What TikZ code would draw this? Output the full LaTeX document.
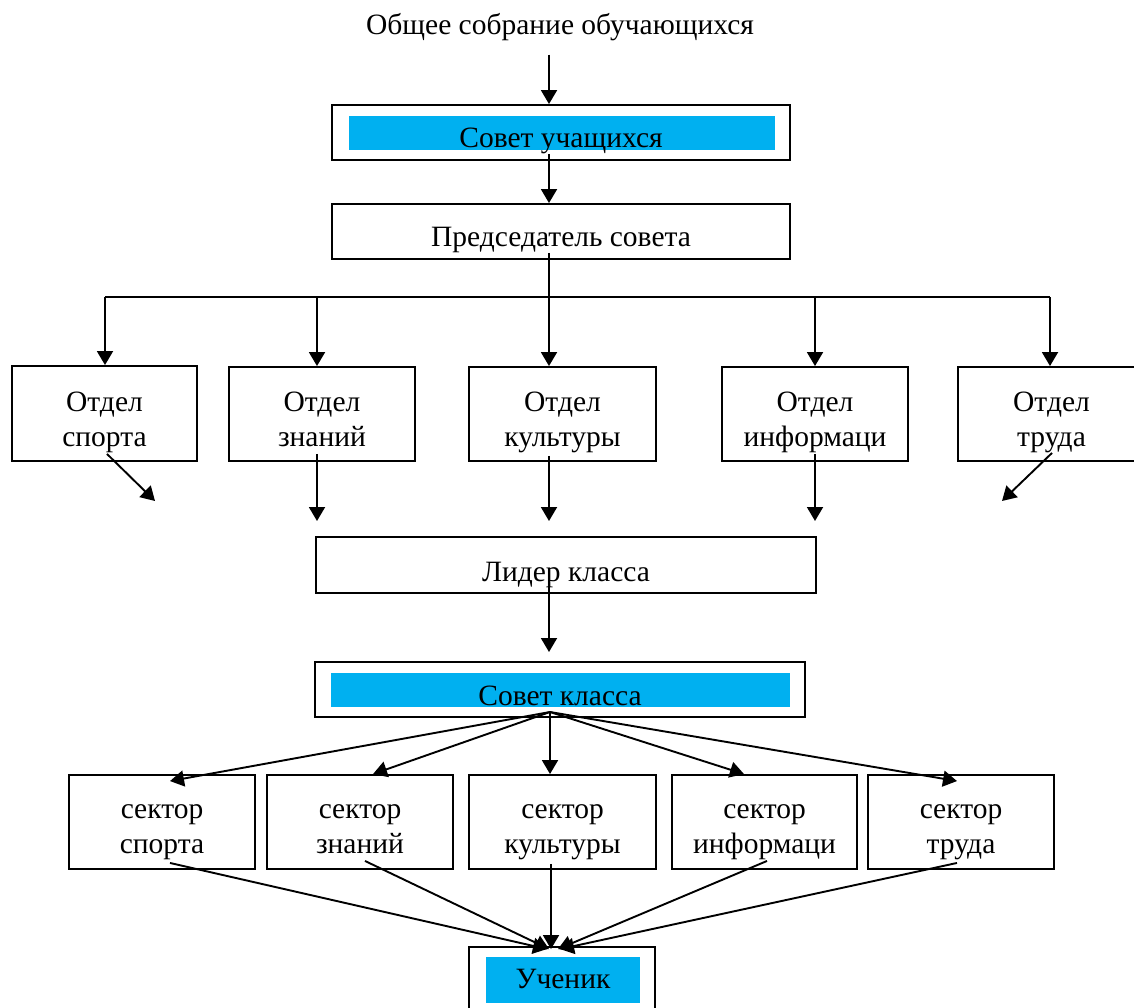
\documentclass[tikz,border=0pt]{standalone}
\usepackage{fontspec}
\setmainfont{Liberation Serif}
\usetikzlibrary{arrows.meta}
\definecolor{sky}{HTML}{00B0F0}
\newcommand\twol[2]{\begin{tabular}[t]{@{}c@{}}#1\\#2\end{tabular}}
\begin{document}
\begin{tikzpicture}[x=1pt,y=-1pt,
  box/.style={draw, line width=1.9pt, inner sep=0pt},
  skybox/.style={fill=sky, draw=none, inner sep=0pt},
  arr/.style={line width=1.9pt, -{Triangle[width=16pt,length=14pt]}},
  ln/.style={line width=1.9pt},
  lbl/.style={anchor=base, inner sep=0pt, font=\fontsize{29.5}{35}\selectfont}]
\useasboundingbox (0,0) rectangle (1134,1008);
\clip (0,0) rectangle (1134,1008);
\fill[white] (0,0) rectangle (1134,1008);

% title
\node[lbl] (t) at (560,35) {Общее собрание обучающихся};

% Совет учащихся
\node[box, minimum width=458pt, minimum height=55pt] (su) at (561,132.5) {};
\node[skybox, minimum width=426pt, minimum height=34pt] (sub) at (562,133) {};
\node[lbl] (sut) at (561,148) {Совет учащихся};

% Председатель совета
\node[box, minimum width=458pt, minimum height=55pt] (pr) at (561,231.5) {};
\node[lbl] (prt) at (561,247) {Председатель совета};

% Отделы
\node[box, minimum width=185pt, minimum height=95pt] (o1) at (104.5,413.5) {};
\node[box, minimum width=186pt, minimum height=94pt] (o2) at (322,414) {};
\node[box, minimum width=187pt, minimum height=94pt] (o3) at (562.5,414) {};
\node[box, minimum width=186pt, minimum height=94pt] (o4) at (815,414) {};
\node[box, minimum width=187pt, minimum height=94pt] (o5) at (1051.5,414) {};
\node[lbl] (o1t) at (104.5,411) {\twol{Отдел}{спорта}};
\node[lbl] (o2t) at (322,411) {\twol{Отдел}{знаний}};
\node[lbl] (o3t) at (562.5,411) {\twol{Отдел}{культуры}};
\node[lbl] (o4t) at (815,411) {\twol{Отдел}{информаци}};
\node[lbl] (o5t) at (1051.5,411) {\twol{Отдел}{труда}};

% Лидер класса
\node[box, minimum width=500pt, minimum height=56pt] (ld) at (566,565) {};
\node[lbl] (ldt) at (566,581) {Лидер класса};

% Совет класса
\node[box, minimum width=490pt, minimum height=55pt] (sc) at (560,689.5) {};
\node[skybox, minimum width=459pt, minimum height=34pt] (scb) at (560.5,690) {};
\node[lbl] (sct) at (560,705) {Совет класса};

% Секторы
\node[box, minimum width=186pt, minimum height=94pt] (s1) at (162,822) {};
\node[box, minimum width=186pt, minimum height=94pt] (s2) at (360,822) {};
\node[box, minimum width=187pt, minimum height=94pt] (s3) at (562.5,822) {};
\node[box, minimum width=185pt, minimum height=94pt] (s4) at (764.5,822) {};
\node[box, minimum width=186pt, minimum height=94pt] (s5) at (961,822) {};
\node[lbl] (s1t) at (162,818) {\twol{сектор}{спорта}};
\node[lbl] (s2t) at (360,818) {\twol{сектор}{знаний}};
\node[lbl] (s3t) at (562.5,818) {\twol{сектор}{культуры}};
\node[lbl] (s4t) at (764.5,818) {\twol{сектор}{информаци}};
\node[lbl] (s5t) at (961,818) {\twol{сектор}{труда}};

% Ученик
\node[box, minimum width=186pt, minimum height=83pt] (u) at (562,988.5) {};
\node[skybox, minimum width=154pt, minimum height=46pt] (ub) at (563,980) {};
\node[lbl] (ut) at (563,988) {Ученик};

% connectors top
\draw[arr] ([shift={(-11,13)}]t.south) -- ([shift={(-12,0)}]su.north);
\draw[arr] ([shift={(-12,-7)}]su.south) -- ([shift={(-12,0)}]pr.north);

\coordinate (bus) at (549,297);
\coordinate (b1) at (105,297);
\coordinate (b2) at (317,297);
\coordinate (b3) at (549,297);
\coordinate (b4) at (815,297);
\coordinate (b5) at (1050,297);
\draw[ln] ([shift={(-12,-7)}]pr.south) -- (bus);
\draw[ln] (b1) -- (b5);
\draw[arr] (b1) -- (b1 |- o1.north);
\draw[arr] (b2) -- (b2 |- o2.north);
\draw[arr] (b3) -- (b3 |- o3.north);
\draw[arr] (b4) -- (b4 |- o4.north);
\draw[arr] (b5) -- (b5 |- o5.north);

% below Отделы
\coordinate (d1) at (155,501);
\coordinate (d2) at (317,521);
\coordinate (d3) at (549,521);
\coordinate (d4) at (815,521);
\coordinate (d5) at (1002,501);
\draw[arr] ([shift={(2.5,-8)}]o1.south) -- (d1);
\draw[arr] ([shift={(-5,-8)}]o2.south) -- (d2);
\draw[arr] ([shift={(-13.5,-6)}]o3.south) -- (d3);
\draw[arr] ([shift={(0,-8)}]o4.south) -- (d4);
\draw[arr] ([shift={(0.5,-9)}]o5.south) -- (d5);

% Лидер -> Совет класса
\coordinate (dl) at (549,652);
\draw[arr] ([shift={(-17,-8)}]ld.south) -- (dl);

% fan to sectors
\coordinate (fan) at (550,712);
\draw[arr] (fan) -- ([shift={(8,7)}]s1.north);
\draw[arr] (fan) -- ([shift={(13,0)}]s2.north);
\draw[arr] (fan) -- ([shift={(-12.5,0)}]s3.north);
\draw[arr] (fan) -- ([shift={(-20.5,0)}]s4.north);
\draw[arr] (fan) -- ([shift={(-4,7)}]s5.north);

% sectors to Ученик
\draw[arr] ([shift={(8,-7)}]s1.south) -- ([shift={(-15,3)}]u.north);
\draw[arr] ([shift={(5,-9)}]s2.south) -- ([shift={(-13,3)}]u.north);
\draw[arr] ([shift={(-11.5,-6)}]s3.south) -- ([shift={(-11,3)}]u.north);
\draw[arr] ([shift={(2.5,-9)}]s4.south) -- ([shift={(-4,3)}]u.north);
\draw[arr] ([shift={(-4,-7)}]s5.south) -- ([shift={(-2,3)}]u.north);
\end{tikzpicture}
\end{document}
